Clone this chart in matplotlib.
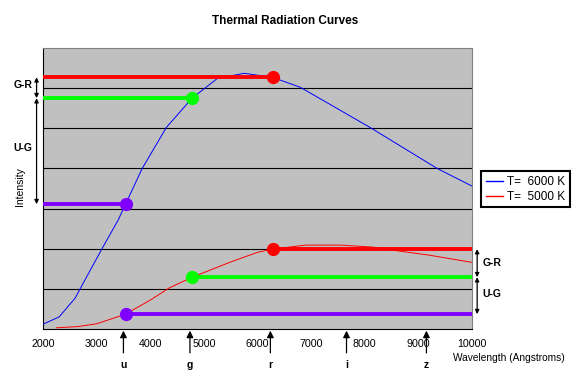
import matplotlib
matplotlib.use("Agg")
import matplotlib.pyplot as plt

plt.rcParams['font.family'] = ['Liberation Sans', 'DejaVu Sans']

# Data
blue_wl = [2000, 2300, 2600, 2700, 3100, 3400, 3540, 3850, 4300, 4780, 5250, 5750, 6280, 6800, 8100, 9350, 10000]
blue_I = [0.12, 0.30, 0.77, 1.02, 2.0, 2.71, 3.11, 4.0, 5.02, 5.75, 6.24, 6.37, 6.27, 6.02, 5.02, 4.0, 3.56]

red_wl = [2250, 2650, 3000, 3540, 4000, 4350, 4780, 5500, 6000, 6280, 6900, 7550, 8150, 8650, 9200, 10000]
red_I = [0.03, 0.06, 0.13, 0.37, 0.72, 1.02, 1.29, 1.67, 1.91, 1.99, 2.09, 2.09, 2.04, 1.94, 1.84, 1.66]

dot_wl = [3540, 4780, 6280]           # u, g, r sample points
dot_hot = [3.11, 5.75, 6.27]          # T=6000 K intensities
dot_cool = [0.37, 1.29, 1.99]         # T=5000 K intensities
dot_colors = ['#8000FF', '#00FF00', '#FF0000']

filter_names = ['u', 'g', 'r', 'i', 'z']
filter_wl = [3500, 4740, 6240, 7660, 9150]

x_ticks = [2000, 3000, 4000, 5000, 6000, 7000, 8000, 9000, 10000]
legend_labels = ['T=  6000 K', 'T=  5000 K']

fig = plt.figure(figsize=(5.74, 3.81), dpi=100)
ax = fig.add_axes([43/574, 1-329/381, 429/574, 281/381])
ax.set_facecolor('#C0C0C0')
ax.set_xlim(2000, 10000)
ax.set_ylim(0, 7)

for g in range(1, 7):
    ax.axhline(g, color='black', lw=0.8, zorder=1)

l1, = ax.plot(blue_wl, blue_I, color='#0000FF', lw=0.7, zorder=3)
l2, = ax.plot(red_wl, red_I, color='#FF0000', lw=0.7, zorder=3)

# horizontal level bars
for wl, yh, yc, c in zip(dot_wl, dot_hot, dot_cool, dot_colors):
    ax.plot([2000, wl], [yh, yh], color=c, lw=2.8, solid_capstyle='butt', zorder=4)
    ax.plot([wl, 10000], [yc, yc], color=c, lw=2.8, solid_capstyle='butt', zorder=4)
    ax.plot([wl], [yh], 'o', color=c, ms=8.5, zorder=5)
    ax.plot([wl], [yc], 'o', color=c, ms=8.5, zorder=5)

ax.set_xticks(x_ticks)
ax.set_xticklabels([str(t) for t in x_ticks], fontsize=7.7)
ax.set_yticks([])
ax.tick_params(axis='x', length=0, pad=7)
for s in ['top', 'right']:
    ax.spines[s].set_color('#808080')
for s in ['left', 'bottom']:
    ax.spines[s].set_color('black')

# filter arrows
for name, wl in zip(filter_names, filter_wl):
    ax.annotate('', xy=(wl, -0.006), xytext=(wl, -0.085),
                xycoords=('data', 'axes fraction'), textcoords=('data', 'axes fraction'),
                arrowprops=dict(arrowstyle='-|>', color='black', lw=0.9, mutation_scale=10,
                                shrinkA=0, shrinkB=0),
                annotation_clip=False)
    ax.text(wl, -0.128, name, transform=ax.get_xaxis_transform(), ha='center', va='center',
            fontsize=7.5, fontweight='bold', clip_on=False)

# color-difference brackets
def bracket(xf, y0, y1):
    ax.annotate('', xy=(xf, y0), xytext=(xf, y1),
                xycoords=('axes fraction', 'data'), textcoords=('axes fraction', 'data'),
                arrowprops=dict(arrowstyle='<|-|>', color='black', lw=0.9, mutation_scale=6,
                                shrinkA=0, shrinkB=0),
                annotation_clip=False)

bracket(-0.015, dot_hot[2], dot_hot[1])
bracket(-0.015, dot_hot[1], dot_hot[0])
bracket(1.012, dot_cool[2], dot_cool[1])
bracket(1.012, dot_cool[1], dot_cool[0])

tr = ax.get_yaxis_transform()
ax.text(-0.046, (dot_hot[2] + dot_hot[1]) / 2 + 0.08, 'G-R', transform=tr, ha='center', va='center',
        fontsize=7.5, fontweight='bold')
ax.text(-0.046, 4.5, 'U-G', transform=tr, ha='center', va='center', fontsize=7.5, fontweight='bold')
ax.text(1.046, (dot_cool[2] + dot_cool[1]) / 2, 'G-R', transform=tr, ha='center', va='center',
        fontsize=7.5, fontweight='bold')
ax.text(1.046, 0.87, 'U-G', transform=tr, ha='center', va='center', fontsize=7.5, fontweight='bold')

fig.text(20/574, 1-187/381, 'Intensity', rotation=90, ha='center', va='center', fontsize=7.5)
fig.text(509/574, 1-358/381, 'Wavelength (Angstroms)', ha='center', va='center', fontsize=7.3)
fig.text(285/574, 1-21/381, 'Thermal Radiation Curves', ha='center', va='center',
         fontsize=8.5, fontweight='bold')

leg = fig.legend([l1, l2], legend_labels, loc='upper left', bbox_to_anchor=(481/574, 1-171/381),
                 borderaxespad=0, fontsize=8.5, fancybox=False, framealpha=1,
                 handlelength=1.5, handletextpad=0.3, borderpad=0.4, labelspacing=0.25)
leg.get_frame().set_edgecolor('black')
leg.get_frame().set_linewidth(1.5)
for h in leg.get_lines():
    h.set_linewidth(1.0)

fig.savefig('out.png', dpi=100)
